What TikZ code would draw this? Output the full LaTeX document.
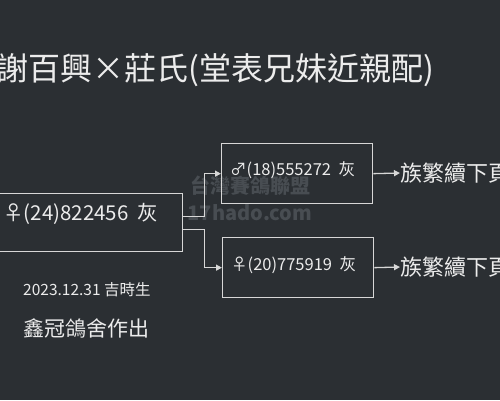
\documentclass[tikz,border=0pt]{standalone}
\usepackage{fontspec}
\setmainfont{Noto Sans CJK TC}
\usetikzlibrary{arrows.meta,calc}
\definecolor{bg}{RGB}{43,47,51}
\definecolor{ink}{RGB}{236,236,236}
\definecolor{wline}{RGB}{215,215,215}
\definecolor{wm}{RGB}{72,77,82}
\tikzset{
  box/.style={draw=wline, line width=1.3pt, rectangle, inner sep=0pt, anchor=north west},
  txt/.style={text=ink, inner sep=0pt, anchor=west},
  conn/.style={draw=wline, line width=1.3pt, -{Triangle[length=6pt,width=6pt]}},
  wmark/.style={text=wm, inner sep=0pt, font=\fontsize{20}{22}\selectfont\bfseries}
}
\begin{document}
\begin{tikzpicture}[x=1pt,y=-1pt]
\fill[bg] (0,0) rectangle (500,400);
\useasboundingbox (0,0) rectangle (500,400);
% watermark
\node[wmark] (wm1) at (250,186) {台灣賽鴿聯盟};
\node[wmark] (wm2) at (250,213) {17hado.com};
% title
\node[txt, font=\fontsize{32}{36}\selectfont] (title) at (-4,70) {謝百興×莊氏(堂表兄妹近親配)};
% boxes
\node[box, minimum width=187pt, minimum height=58pt] (p) at (-5,193) {};
\node[txt, font=\fontsize{20.5}{23}\selectfont] (ptxt) at (3,214) {♀(24)822456\ \ 灰};
\node[box, minimum width=151pt, minimum height=60pt] (c1) at (221,143) {};
\node[txt, font=\fontsize{16.5}{19}\selectfont] (c1txt) at (230,170) {♂(18)555272\ \ 灰};
\node[box, minimum width=151pt, minimum height=60pt] (c2) at (222,237) {};
\node[txt, font=\fontsize{16.5}{19}\selectfont] (c2txt) at (231,265) {♀(20)775919\ \ 灰};
% continuation labels
\node[txt, font=\fontsize{22}{24}\selectfont] (n1) at (400,173) {族繁續下頁};
\node[txt, font=\fontsize{22}{24}\selectfont] (n2) at (400,267) {族繁續下頁};
% connectors
\draw[conn] ([yshift=6pt]p.east) -- ++(21,0) |- (c1.west);
\draw[conn] ([yshift=-7pt]p.east) -- ++(21,0) |- (c2.west);
\draw[conn] (c1.east) -- (n1.west);
\draw[conn] (c2.east) -- (n2.west);
% footer
\node[txt, font=\fontsize{15.5}{17}\selectfont] (date) at (23,290) {2023.12.31 吉時生};
\node[txt, font=\fontsize{21}{23}\selectfont] (maker) at (23,328) {鑫冠鴿舍作出};
\end{tikzpicture}
\end{document}
